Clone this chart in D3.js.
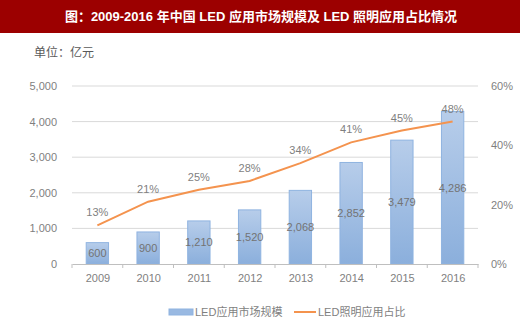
<!DOCTYPE html>
<html>
<head>
<meta charset="utf-8">
<script src="https://cdn.jsdelivr.net/npm/d3@7"></script>
<style>
  body { margin: 0; background: #fff; }
  text { font-family: "Liberation Sans", "Noto Sans CJK SC", sans-serif; }
</style>
</head>
<body>
<div id="chart"></div>
<script>
// data
var years = ["2009", "2010", "2011", "2012", "2013", "2014", "2015", "2016"];
var marketSize = [600, 900, 1210, 1520, 2068, 2852, 3479, 4286];
var lightingShare = [13, 21, 25, 28, 34, 41, 45, 48];
var leftTicks = [0, 1000, 2000, 3000, 4000, 5000];
var rightTicks = [0, 20, 40, 60];
var seriesNames = ["LED应用市场规模", "LED照明应用占比"];

var width = 520, height = 335;
var plotL = 72, plotR = 478, plotT = 86, plotB = 264;

var svg = d3.select("#chart").append("svg")
    .attr("width", width)
    .attr("height", height);

var defs = svg.append("defs");
var grad = defs.append("linearGradient").attr("id", "barGrad")
    .attr("x1", 0).attr("y1", 0).attr("x2", 0).attr("y2", 1);
grad.append("stop").attr("offset", "0%").attr("stop-color", "#b7cdea");
grad.append("stop").attr("offset", "100%").attr("stop-color", "#8bafdc");

// title banner
svg.append("rect").attr("x", 0).attr("y", 0).attr("width", width).attr("height", 33)
    .attr("fill", "#9c0000");
svg.append("text").attr("x", 261).attr("y", 21)
    .attr("text-anchor", "middle")
    .attr("fill", "#fff")
    .attr("font-size", 13)
    .attr("font-weight", "bold")
    .text("图：2009-2016 年中国 LED 应用市场规模及 LED 照明应用占比情况");

svg.append("text").attr("x", 34).attr("y", 57)
    .attr("fill", "#595959")
    .attr("font-size", 12)
    .text("单位：亿元");

var x = d3.scaleBand().domain(years).range([plotL, plotR]).paddingInner(0.56).paddingOuter(0.28);
var xc = d3.scalePoint().domain(years).range([plotL, plotR]).padding(0.5);
var y = d3.scaleLinear().domain([0, 5000]).range([plotB, plotT]);
var y2 = d3.scaleLinear().domain([0, 60]).range([plotB, plotT]);

// gridlines
svg.append("g").selectAll("line").data(leftTicks.slice(1)).join("line")
    .attr("x1", plotL).attr("x2", plotR)
    .attr("y1", function(d) { return y(d); }).attr("y2", function(d) { return y(d); })
    .attr("stroke", "#d9d9d9").attr("stroke-width", 1);

// left axis
var yAxis = svg.append("g").attr("transform", "translate(" + (plotL - 12) + ",0)")
    .call(d3.axisLeft(y).tickValues(leftTicks).tickFormat(d3.format(",")).tickSize(0));
yAxis.select(".domain").remove();
yAxis.selectAll("text").attr("fill", "#7f7f7f").attr("font-size", 11);

// right axis
var yAxis2 = svg.append("g").attr("transform", "translate(" + (plotR + 10) + ",0)")
    .call(d3.axisRight(y2).tickValues(rightTicks).tickFormat(function(d) { return d + "%"; }).tickSize(0));
yAxis2.select(".domain").remove();
yAxis2.selectAll("text").attr("fill", "#7f7f7f").attr("font-size", 11);

// bars
svg.append("g").selectAll("rect").data(marketSize).join("rect")
    .attr("x", function(d, i) { return x(years[i]); })
    .attr("y", function(d) { return y(d); })
    .attr("width", x.bandwidth())
    .attr("height", function(d) { return plotB - y(d); })
    .attr("fill", "url(#barGrad)")
    .attr("stroke", "#8fb3e0")
    .attr("stroke-width", 1);

// x axis
var step = (plotR - plotL) / years.length;
var xAxis = svg.append("g").attr("transform", "translate(0," + plotB + ")")
    .call(d3.axisBottom(xc).tickSize(0).tickPadding(10));
xAxis.select(".domain").attr("stroke", "#bfbfbf");
xAxis.selectAll("text").attr("fill", "#7f7f7f").attr("font-size", 11);
svg.append("g").selectAll("line").data(d3.range(years.length + 1)).join("line")
    .attr("x1", function(i) { return plotL + i * step; })
    .attr("x2", function(i) { return plotL + i * step; })
    .attr("y1", plotB).attr("y2", plotB + 4)
    .attr("stroke", "#bfbfbf");

// bar value labels
svg.append("g").selectAll("text").data(marketSize).join("text")
    .attr("x", function(d, i) { return xc(years[i]); })
    .attr("y", function(d) { return (y(d) + plotB) / 2 + 4; })
    .attr("text-anchor", "middle")
    .attr("fill", "#737373")
    .attr("font-size", 11)
    .text(d3.format(","));

// share line
var line = d3.line()
    .x(function(d, i) { return xc(years[i]); })
    .y(function(d) { return y2(d); });
svg.append("path").datum(lightingShare)
    .attr("d", line)
    .attr("fill", "none")
    .attr("stroke", "#f4934e")
    .attr("stroke-width", 2);

svg.append("g").selectAll("text").data(lightingShare).join("text")
    .attr("x", function(d, i) { return xc(years[i]); })
    .attr("y", function(d) { return y2(d) - 9; })
    .attr("text-anchor", "middle")
    .attr("fill", "#7f7f7f")
    .attr("font-size", 11)
    .text(function(d) { return d + "%"; });

// legend
var lg = svg.append("g");
lg.append("rect").attr("x", 169).attr("y", 309).attr("width", 24).attr("height", 6)
    .attr("fill", "#99b9e2").attr("stroke", "#8fb3e0");
lg.append("text").attr("x", 195).attr("y", 316).attr("fill", "#7f7f7f").attr("font-size", 11)
    .text(seriesNames[0]);
lg.append("line").attr("x1", 294).attr("x2", 316).attr("y1", 312).attr("y2", 312)
    .attr("stroke", "#f4934e").attr("stroke-width", 2);
lg.append("text").attr("x", 318).attr("y", 316).attr("fill", "#7f7f7f").attr("font-size", 11)
    .text(seriesNames[1]);
</script>
</body>
</html>
